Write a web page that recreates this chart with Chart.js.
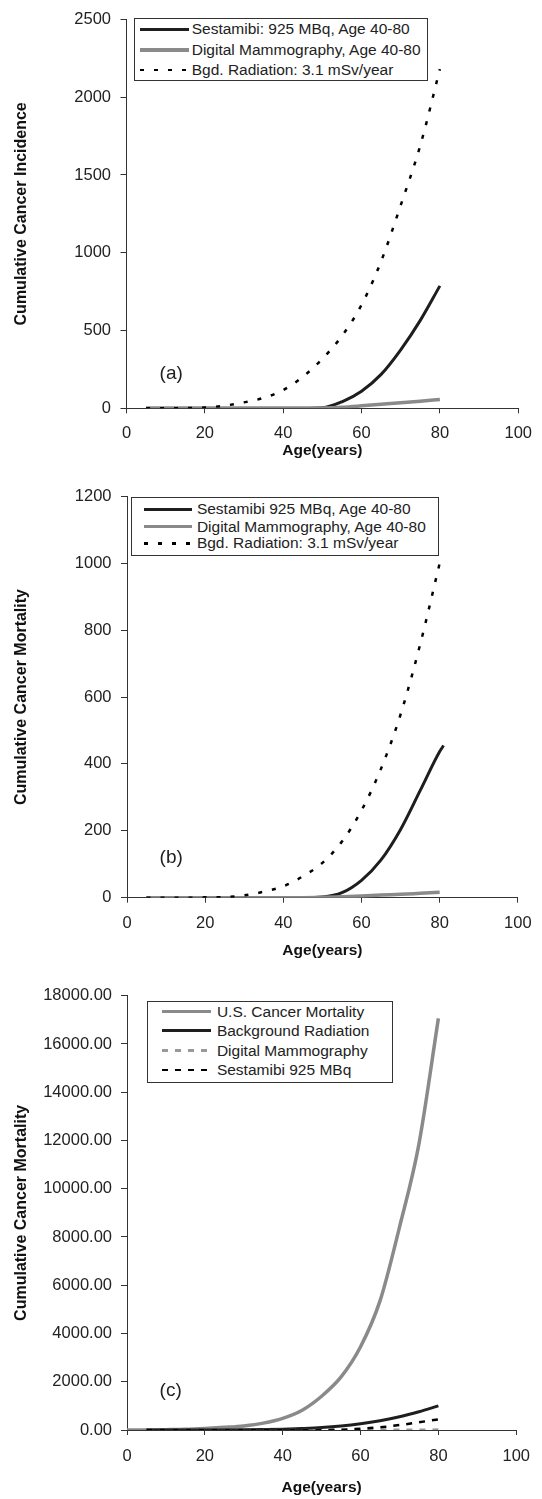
<!DOCTYPE html>
<html><head><meta charset="utf-8">
<script src="https://cdn.jsdelivr.net/npm/chart.js@4.4.0/dist/chart.umd.min.js"></script>
<style>
html,body{margin:0;padding:0;background:#fff;}
#wrap{position:relative;width:542px;height:1499px;overflow:hidden;font-family:"Liberation Sans",Arial,sans-serif;color:#222;}
canvas{position:absolute;left:0;}
.legend{position:absolute;border:1px solid #333;box-sizing:border-box;background:#fff;}
.lg-line{position:absolute;}
.lg-text{position:absolute;font-size:15.5px;line-height:18px;white-space:nowrap;color:#222;}
.panel{position:absolute;font-size:19px;line-height:22px;color:#222;}
</style></head>
<body><div id="wrap">
<canvas id="ca" width="542" height="470" style="top:0px"></canvas>
<canvas id="cb" width="542" height="495" style="top:470px"></canvas>
<canvas id="cc" width="542" height="534" style="top:965px"></canvas>
</div>
<script>
// ---------- DATA ----------
const xTicks = [0, 20, 40, 60, 80, 100];
const ages = [5, 10, 15, 20, 25, 30, 35, 40, 45, 50, 55, 60, 65, 70, 75, 80];
const agesTo81 = [5, 10, 15, 20, 25, 30, 35, 40, 45, 50, 55, 60, 65, 70, 75, 80, 81];
const agesFrom0 = [0, 5, 10, 15, 20, 25, 30, 35, 40, 45, 50, 55, 60, 65, 70, 75, 80];

// (a) cumulative cancer incidence
const labelsA = ['Sestamibi: 925 MBq, Age 40-80', 'Digital Mammography, Age 40-80', 'Bgd. Radiation: 3.1 mSv/year'];
const sestamibiIncidence = [0, 0, 0, 0, 0, 0, 0, 0, 0, 3, 42, 110, 218, 376, 565, 787];
const mammoIncidence = [0, 0, 0, 0, 0, 0, 0, 0, 0, 2, 7, 16, 26, 36, 46, 57];
const bgdIncidence = [0, 0, 1, 5, 17, 38, 67, 117, 202, 318, 465, 665, 945, 1305, 1690, 2180];
const yTicksA = [0, 500, 1000, 1500, 2000, 2500];

// (b) cumulative cancer mortality
const labelsB = ['Sestamibi 925 MBq, Age 40-80', 'Digital Mammography, Age 40-80', 'Bgd. Radiation: 3.1 mSv/year'];
const sestamibiMortality = [0, 0, 0, 0, 0, 0, 0, 0, 0, 2, 15, 52, 113, 204, 320, 437, 455];
const mammoMortality = [0, 0, 0, 0, 0, 0, 0, 0, 0, 1, 3, 5, 8, 10, 13, 16];
const bgdMortality = [0, 0, 0, 1, 2, 7, 18, 34, 64, 104, 168, 261, 386, 548, 757, 1000];
const yTicksB = [0, 200, 400, 600, 800, 1000, 1200];

// (c) comparison with U.S. cancer mortality
const labelsC = ['U.S. Cancer Mortality', 'Background Radiation', 'Digital Mammography', 'Sestamibi 925 MBq'];
const usMortality = [0, 5, 15, 30, 65, 110, 170, 285, 483, 820, 1400, 2200, 3450, 5350, 8400, 11850, 17060];
const yTicksC = [0, 2000, 4000, 6000, 8000, 10000, 12000, 14000, 16000, 18000];

// ---------- HELPERS ----------
const FONT = '"Liberation Sans", Arial, sans-serif';
const BLACK = '#1e1e1e', GRAY = '#8a8a8a', AXIS = '#333';
Chart.defaults.font.family = FONT;
Chart.defaults.color = '#222';

const pts = (xs, ys) => ys.map((v, i) => ({x: xs[i], y: v}));

function series(label, xs, ys, color, dash, width, order) {
  return {label, data: pts(xs, ys), borderColor: color, backgroundColor: color,
    borderWidth: width, borderDash: dash || [], pointRadius: 0, fill: false,
    cubicInterpolationMode: 'monotone', borderCapStyle: 'butt', order};
}

function makeChart(id, H, g, yTicks, yTitle, fmt, datasets) {
  new Chart(document.getElementById(id), {
    type: 'line',
    data: {datasets},
    options: {
      responsive: false, animation: false, devicePixelRatio: 1,
      layout: {padding: {top: g.top, right: 542 - g.right, left: 0, bottom: 0}},
      plugins: {legend: {display: false}, tooltip: {enabled: false}},
      scales: {
        x: {
          type: 'linear', min: xTicks[0], max: xTicks[xTicks.length - 1],
          afterBuildTicks: s => { s.ticks = xTicks.map(v => ({value: v})); },
          ticks: {font: {size: 16.5}, color: '#222', padding: g.xTickPad, maxRotation: 0, autoSkip: false},
          grid: {drawOnChartArea: false, drawTicks: true, tickLength: 5, color: AXIS},
          border: {display: true, color: AXIS, width: 1},
          title: {display: true, text: 'Age(years)', color: '#111', font: {size: 15.5, weight: 'bold'},
                  padding: {top: 0, bottom: g.xTitlePad}},
          afterFit: s => { s.height = H - g.bottom; }
        },
        y: {
          type: 'linear', min: yTicks[0], max: yTicks[yTicks.length - 1],
          afterBuildTicks: s => { s.ticks = yTicks.map(v => ({value: v})); },
          ticks: {font: {size: 16.5}, color: '#222', padding: g.yTickPad, callback: fmt},
          grid: {drawOnChartArea: false, drawTicks: true, tickLength: 6, color: AXIS},
          border: {display: true, color: AXIS, width: 1},
          title: {display: true, text: yTitle, color: '#111', font: {size: 16, weight: 'bold'},
                  padding: {top: 12, bottom: 0}},
          afterFit: s => { s.width = g.left; }
        }
      }
    }
  });
}

function legend(box, rows, sample, textLeft, items) {
  const wrap = document.getElementById('wrap');
  const d = document.createElement('div');
  d.className = 'legend';
  Object.assign(d.style, {left: box.l + 'px', top: box.t + 'px', width: (box.r - box.l) + 'px', height: (box.b - box.t) + 'px'});
  items.forEach((it, i) => {
    const ln = document.createElement('div');
    ln.className = 'lg-line';
    const w = it.width;
    Object.assign(ln.style, {left: (sample.l - box.l - 1) + 'px', top: (rows[i] - box.t - 1 - w / 2) + 'px',
      width: (sample.r - sample.l) + 'px', height: w + 'px'});
    if (it.dash && it.dash.length) {
      const a = it.dash[0], b = it.dash[0] + it.dash[1];
      ln.style.background = `repeating-linear-gradient(to right, ${it.color} 0px, ${it.color} ${a}px, transparent ${a}px, transparent ${b}px)`;
    } else {
      ln.style.background = it.color;
    }
    d.appendChild(ln);
    const tx = document.createElement('div');
    tx.className = 'lg-text';
    tx.textContent = it.label;
    Object.assign(tx.style, {left: (textLeft - box.l - 1) + 'px', top: (rows[i] - box.t - 1 - 9) + 'px'});
    d.appendChild(tx);
  });
  wrap.appendChild(d);
}

function panelLabel(text, x, cy) {
  const p = document.createElement('div');
  p.className = 'panel';
  p.textContent = text;
  Object.assign(p.style, {left: x + 'px', top: (cy - 11) + 'px'});
  document.getElementById('wrap').appendChild(p);
}

const DOT = [4, 10], DASH = [6, 7];

// ---------- CHART (a) ----------
const dsA = [
  series(labelsA[0], ages, sestamibiIncidence, BLACK, null, 3, 3),
  series(labelsA[1], ages, mammoIncidence, GRAY, null, 3.5, 2),
  series(labelsA[2], ages, bgdIncidence, '#000', DOT, 2.5, 1)
];
makeChart('ca', 470, {top: 15.7, bottom: 408.3, left: 126.5, right: 521, xTickPad: 10, xTitlePad: 9.7, yTickPad: 9.5},
  yTicksA, 'Cumulative Cancer Incidence', v => String(v), dsA);
legend({l: 133.5, t: 17.5, r: 427.5, b: 81}, [29, 50, 70], {l: 139.5, r: 188.5}, 191.7,
  dsA.map(d => ({label: d.label, color: d.borderColor, dash: d.borderDash, width: d.borderWidth})));
panelLabel('(a)', 159.6, 373.3);

// ---------- CHART (b) ----------
const dsB = [
  series(labelsB[0], agesTo81, sestamibiMortality, BLACK, null, 3, 3),
  series(labelsB[1], ages, mammoMortality, GRAY, null, 3.5, 2),
  series(labelsB[2], ages, bgdMortality, '#000', DOT, 2.5, 1)
];
makeChart('cb', 495, {top: 26.4, bottom: 427.7, left: 127, right: 520.6, xTickPad: 10.4, xTitlePad: 5, yTickPad: 9.5},
  yTicksB, 'Cumulative Cancer Mortality', v => String(v), dsB);
legend({l: 131.3, t: 496.7, r: 439.4, b: 556}, [509.3, 526.7, 543.3], {l: 144.4, r: 191.7}, 196.9,
  dsB.map(d => ({label: d.label, color: d.borderColor, dash: d.borderDash, width: d.borderWidth})));
panelLabel('(b)', 159.6, 856.7);

// ---------- CHART (c) ----------
const dsC = [
  series(labelsC[0], agesFrom0, usMortality, GRAY, null, 3.5, 4),
  series(labelsC[1], ages, bgdMortality, BLACK, null, 3, 3),
  series(labelsC[2], ages, mammoMortality, '#999', DASH, 2.5, 2),
  series(labelsC[3], agesTo81, sestamibiMortality, '#000', DASH, 2.5, 1)
];
makeChart('cc', 534, {top: 30.7, bottom: 465, left: 127, right: 520, xTickPad: 12, xTitlePad: 2.4, yTickPad: 9},
  yTicksC, 'Cumulative Cancer Mortality', v => Number(v).toFixed(2), dsC);
legend({l: 146.8, t: 1000.7, r: 392.7, b: 1082.7}, [1011.7, 1031, 1050.7, 1070], {l: 161.7, r: 210.7}, 216.9,
  dsC.map(d => ({label: d.label, color: d.borderColor, dash: d.borderDash, width: d.borderWidth})));
panelLabel('(c)', 159.6, 1390);
</script>
</body></html>
